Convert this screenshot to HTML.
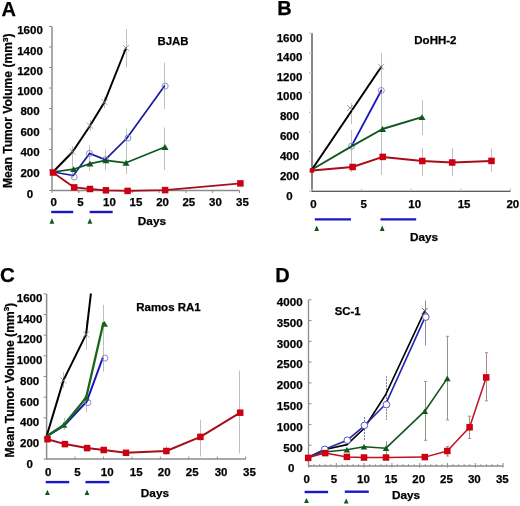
<!DOCTYPE html><html><head><meta charset="utf-8"><style>html,body{margin:0;padding:0;background:#fff;width:520px;height:506px;overflow:hidden}svg{display:block;will-change:transform}</style></head><body>
<svg width="520" height="506" viewBox="0 0 520 506" font-family='"Liberation Sans", sans-serif' font-weight="bold" fill="#000">
<rect width="520" height="506" fill="#fff"/>
<line x1="126.50" y1="28.90" x2="126.50" y2="67.40" stroke="#c0c0c0" stroke-width="1"/>
<line x1="104.50" y1="97.00" x2="104.50" y2="108.00" stroke="#c0c0c0" stroke-width="1"/>
<line x1="90.50" y1="120.00" x2="90.50" y2="131.00" stroke="#c0c0c0" stroke-width="1"/>
<line x1="72.50" y1="146.00" x2="72.50" y2="178.00" stroke="#c0c0c0" stroke-width="1"/>
<line x1="89.50" y1="145.50" x2="89.50" y2="171.00" stroke="#c0c0c0" stroke-width="1"/>
<line x1="105.50" y1="149.40" x2="105.50" y2="170.00" stroke="#c0c0c0" stroke-width="1"/>
<line x1="126.50" y1="128.70" x2="126.50" y2="174.00" stroke="#c0c0c0" stroke-width="1"/>
<line x1="164.50" y1="62.40" x2="164.50" y2="109.00" stroke="#c0c0c0" stroke-width="1"/>
<line x1="164.50" y1="127.50" x2="164.50" y2="170.00" stroke="#c0c0c0" stroke-width="1"/>
<line x1="72.50" y1="146.00" x2="72.50" y2="157.00" stroke="#c0c0c0" stroke-width="1"/>
<line x1="52.00" y1="26.50" x2="52.00" y2="191.00" stroke="#8c8c8c" stroke-width="1.5"/>
<line x1="51.50" y1="190.50" x2="239.50" y2="190.50" stroke="#8c8c8c" stroke-width="1.5"/>
<line x1="49.00" y1="190.50" x2="52.00" y2="190.50" stroke="#8c8c8c" stroke-width="1"/>
<line x1="49.00" y1="170.00" x2="52.00" y2="170.00" stroke="#8c8c8c" stroke-width="1"/>
<line x1="49.00" y1="149.50" x2="52.00" y2="149.50" stroke="#8c8c8c" stroke-width="1"/>
<line x1="49.00" y1="129.00" x2="52.00" y2="129.00" stroke="#8c8c8c" stroke-width="1"/>
<line x1="49.00" y1="108.50" x2="52.00" y2="108.50" stroke="#8c8c8c" stroke-width="1"/>
<line x1="49.00" y1="88.00" x2="52.00" y2="88.00" stroke="#8c8c8c" stroke-width="1"/>
<line x1="49.00" y1="67.50" x2="52.00" y2="67.50" stroke="#8c8c8c" stroke-width="1"/>
<line x1="49.00" y1="47.00" x2="52.00" y2="47.00" stroke="#8c8c8c" stroke-width="1"/>
<line x1="49.00" y1="26.50" x2="52.00" y2="26.50" stroke="#8c8c8c" stroke-width="1"/>
<line x1="52.00" y1="190.50" x2="52.00" y2="193.00" stroke="#8c8c8c" stroke-width="1"/>
<line x1="78.79" y1="190.50" x2="78.79" y2="193.00" stroke="#8c8c8c" stroke-width="1"/>
<line x1="105.57" y1="190.50" x2="105.57" y2="193.00" stroke="#8c8c8c" stroke-width="1"/>
<line x1="132.36" y1="190.50" x2="132.36" y2="193.00" stroke="#8c8c8c" stroke-width="1"/>
<line x1="159.14" y1="190.50" x2="159.14" y2="193.00" stroke="#8c8c8c" stroke-width="1"/>
<line x1="185.93" y1="190.50" x2="185.93" y2="193.00" stroke="#8c8c8c" stroke-width="1"/>
<line x1="212.71" y1="190.50" x2="212.71" y2="193.00" stroke="#8c8c8c" stroke-width="1"/>
<line x1="239.50" y1="190.50" x2="239.50" y2="193.00" stroke="#8c8c8c" stroke-width="1"/>
<text x="30.00" y="198.10" font-size="11.5" text-anchor="middle" stroke="#000" stroke-width="0.25" >0</text>
<text x="30.00" y="177.40" font-size="11.5" text-anchor="middle" stroke="#000" stroke-width="0.25" >200</text>
<text x="30.00" y="156.40" font-size="11.5" text-anchor="middle" stroke="#000" stroke-width="0.25" >400</text>
<text x="30.00" y="136.20" font-size="11.5" text-anchor="middle" stroke="#000" stroke-width="0.25" >600</text>
<text x="30.00" y="115.40" font-size="11.5" text-anchor="middle" stroke="#000" stroke-width="0.25" >800</text>
<text x="30.00" y="95.10" font-size="11.5" text-anchor="middle" stroke="#000" stroke-width="0.25" >1000</text>
<text x="30.00" y="75.00" font-size="11.5" text-anchor="middle" stroke="#000" stroke-width="0.25" >1200</text>
<text x="30.00" y="54.60" font-size="11.5" text-anchor="middle" stroke="#000" stroke-width="0.25" >1400</text>
<text x="30.00" y="33.90" font-size="11.5" text-anchor="middle" stroke="#000" stroke-width="0.25" >1600</text>
<text x="53.60" y="206.20" font-size="11.5" text-anchor="middle" stroke="#000" stroke-width="0.25" >0</text>
<text x="80.40" y="206.20" font-size="11.5" text-anchor="middle" stroke="#000" stroke-width="0.25" >5</text>
<text x="109.50" y="206.20" font-size="11.5" text-anchor="middle" stroke="#000" stroke-width="0.25" >10</text>
<text x="136.00" y="206.20" font-size="11.5" text-anchor="middle" stroke="#000" stroke-width="0.25" >15</text>
<text x="162.60" y="206.20" font-size="11.5" text-anchor="middle" stroke="#000" stroke-width="0.25" >20</text>
<text x="188.80" y="206.20" font-size="11.5" text-anchor="middle" stroke="#000" stroke-width="0.25" >25</text>
<text x="215.50" y="206.20" font-size="11.5" text-anchor="middle" stroke="#000" stroke-width="0.25" >30</text>
<text x="242.40" y="206.20" font-size="11.5" text-anchor="middle" stroke="#000" stroke-width="0.25" >35</text>
<polyline points="53.00,172.00 72.70,151.80 90.00,125.70 104.50,102.00 126.00,48.00" fill="none" stroke="#000000" stroke-width="2" stroke-linejoin="round" stroke-linecap="round"/>
<path d="M69.70,148.80L75.70,154.80M69.70,154.80L75.70,148.80" stroke="#8a8a8a" stroke-width="0.8" fill="none"/>
<path d="M87.00,122.70L93.00,128.70M87.00,128.70L93.00,122.70" stroke="#8a8a8a" stroke-width="0.8" fill="none"/>
<path d="M101.50,99.00L107.50,105.00M101.50,105.00L107.50,99.00" stroke="#8a8a8a" stroke-width="0.8" fill="none"/>
<path d="M123.00,45.00L129.00,51.00M123.00,51.00L129.00,45.00" stroke="#8a8a8a" stroke-width="0.8" fill="none"/>
<polyline points="53.00,172.00 73.30,175.50 89.50,153.40 105.30,159.70 126.60,138.50 164.50,86.10" fill="none" stroke="#1a1aa0" stroke-width="1.7" stroke-linejoin="round" stroke-linecap="round"/>
<circle cx="74.20" cy="177.00" r="3" fill="none" stroke="#8080c8" stroke-width="0.9"/>
<circle cx="89.50" cy="153.40" r="3" fill="none" stroke="#8080c8" stroke-width="0.9"/>
<circle cx="105.30" cy="159.70" r="3" fill="none" stroke="#8080c8" stroke-width="0.9"/>
<circle cx="128.00" cy="138.00" r="3" fill="none" stroke="#8080c8" stroke-width="0.9"/>
<circle cx="165.20" cy="86.10" r="3" fill="none" stroke="#8080c8" stroke-width="0.9"/>
<polyline points="53.00,172.00 73.70,169.20 90.00,163.60 105.90,160.30 126.00,162.80 165.00,147.00" fill="none" stroke="#11561f" stroke-width="1.7" stroke-linejoin="round" stroke-linecap="round"/>
<polygon points="70.20,172.10 77.20,172.10 73.70,166.30" fill="#11561f"/>
<polygon points="86.50,166.50 93.50,166.50 90.00,160.70" fill="#11561f"/>
<polygon points="102.40,163.20 109.40,163.20 105.90,157.40" fill="#11561f"/>
<polygon points="122.50,165.70 129.50,165.70 126.00,159.90" fill="#11561f"/>
<polygon points="161.50,149.90 168.50,149.90 165.00,144.10" fill="#11561f"/>
<polyline points="53.00,172.50 74.20,187.40 90.00,189.00 105.90,190.30 127.60,190.90 165.10,190.10 240.80,183.30" fill="none" stroke="#a60e1a" stroke-width="1.8" stroke-linejoin="round" stroke-linecap="round"/>
<rect x="49.75" y="169.25" width="6.5" height="6.5" fill="#cc0012"/>
<rect x="70.95" y="184.15" width="6.5" height="6.5" fill="#cc0012"/>
<rect x="86.75" y="185.75" width="6.5" height="6.5" fill="#cc0012"/>
<rect x="102.65" y="187.05" width="6.5" height="6.5" fill="#cc0012"/>
<rect x="124.35" y="187.65" width="6.5" height="6.5" fill="#cc0012"/>
<rect x="161.85" y="186.85" width="6.5" height="6.5" fill="#cc0012"/>
<rect x="237.15" y="180.15" width="6.5" height="6.5" fill="#cc0012"/>
<line x1="51.20" y1="212.00" x2="73.20" y2="212.00" stroke="#1818c8" stroke-width="2.4"/>
<line x1="89.60" y1="212.00" x2="112.70" y2="212.00" stroke="#1818c8" stroke-width="2.4"/>
<polygon points="49.50,223.80 54.30,223.80 51.90,218.20" fill="#11561f"/>
<polygon points="87.50,223.80 92.30,223.80 89.90,218.20" fill="#11561f"/>
<text x="1.60" y="15.90" font-size="20" text-anchor="start" stroke="#000" stroke-width="0.25" >A</text>
<text x="157.50" y="45.00" font-size="11.4" text-anchor="start" stroke="#000" stroke-width="0.25" >BJAB</text>
<text x="137.80" y="225.40" font-size="11.8" text-anchor="start" stroke="#000" stroke-width="0.25" >Days</text>
<text transform="translate(12.20,188.10) rotate(-90)" font-size="12.1" text-anchor="start" stroke="#000" stroke-width="0.25">Mean Tumor Volume (mm<tspan font-size="7.99" dy="-4.5">3</tspan><tspan dy="4.5">)</tspan></text>
<line x1="351.50" y1="103.00" x2="351.50" y2="124.00" stroke="#c0c0c0" stroke-width="1"/>
<line x1="351.50" y1="130.00" x2="351.50" y2="172.00" stroke="#c0c0c0" stroke-width="1"/>
<line x1="381.50" y1="53.00" x2="381.50" y2="175.00" stroke="#c0c0c0" stroke-width="1"/>
<line x1="422.50" y1="100.40" x2="422.50" y2="135.00" stroke="#c0c0c0" stroke-width="1"/>
<line x1="422.50" y1="148.00" x2="422.50" y2="176.00" stroke="#c0c0c0" stroke-width="1"/>
<line x1="452.50" y1="147.70" x2="452.50" y2="176.30" stroke="#c0c0c0" stroke-width="1"/>
<line x1="491.50" y1="148.70" x2="491.50" y2="172.40" stroke="#c0c0c0" stroke-width="1"/>
<line x1="312.00" y1="33.30" x2="312.00" y2="191.70" stroke="#262626" stroke-width="1.1"/>
<line x1="311.50" y1="191.20" x2="510.50" y2="191.20" stroke="#262626" stroke-width="1.1"/>
<line x1="309.00" y1="191.20" x2="312.00" y2="191.20" stroke="#bbb" stroke-width="1"/>
<line x1="309.00" y1="171.46" x2="312.00" y2="171.46" stroke="#bbb" stroke-width="1"/>
<line x1="309.00" y1="151.72" x2="312.00" y2="151.72" stroke="#bbb" stroke-width="1"/>
<line x1="309.00" y1="131.99" x2="312.00" y2="131.99" stroke="#bbb" stroke-width="1"/>
<line x1="309.00" y1="112.25" x2="312.00" y2="112.25" stroke="#bbb" stroke-width="1"/>
<line x1="309.00" y1="92.51" x2="312.00" y2="92.51" stroke="#bbb" stroke-width="1"/>
<line x1="309.00" y1="72.78" x2="312.00" y2="72.78" stroke="#bbb" stroke-width="1"/>
<line x1="309.00" y1="53.04" x2="312.00" y2="53.04" stroke="#bbb" stroke-width="1"/>
<line x1="309.00" y1="33.30" x2="312.00" y2="33.30" stroke="#bbb" stroke-width="1"/>
<line x1="312.00" y1="191.20" x2="312.00" y2="188.70" stroke="#bbb" stroke-width="1"/>
<line x1="361.62" y1="191.20" x2="361.62" y2="188.70" stroke="#bbb" stroke-width="1"/>
<line x1="411.25" y1="191.20" x2="411.25" y2="188.70" stroke="#bbb" stroke-width="1"/>
<line x1="460.88" y1="191.20" x2="460.88" y2="188.70" stroke="#bbb" stroke-width="1"/>
<line x1="510.50" y1="191.20" x2="510.50" y2="188.70" stroke="#bbb" stroke-width="1"/>
<text x="289.50" y="199.90" font-size="11.5" text-anchor="middle" stroke="#000" stroke-width="0.25" >0</text>
<text x="289.50" y="180.00" font-size="11.5" text-anchor="middle" stroke="#000" stroke-width="0.25" >200</text>
<text x="289.50" y="159.90" font-size="11.5" text-anchor="middle" stroke="#000" stroke-width="0.25" >400</text>
<text x="289.50" y="140.20" font-size="11.5" text-anchor="middle" stroke="#000" stroke-width="0.25" >600</text>
<text x="289.50" y="120.10" font-size="11.5" text-anchor="middle" stroke="#000" stroke-width="0.25" >800</text>
<text x="289.50" y="100.10" font-size="11.5" text-anchor="middle" stroke="#000" stroke-width="0.25" >1000</text>
<text x="289.50" y="80.80" font-size="11.5" text-anchor="middle" stroke="#000" stroke-width="0.25" >1200</text>
<text x="289.50" y="60.60" font-size="11.5" text-anchor="middle" stroke="#000" stroke-width="0.25" >1400</text>
<text x="289.50" y="41.50" font-size="11.5" text-anchor="middle" stroke="#000" stroke-width="0.25" >1600</text>
<text x="313.50" y="207.80" font-size="11.5" text-anchor="middle" stroke="#000" stroke-width="0.25" >0</text>
<text x="363.70" y="207.80" font-size="11.5" text-anchor="middle" stroke="#000" stroke-width="0.25" >5</text>
<text x="414.70" y="207.80" font-size="11.5" text-anchor="middle" stroke="#000" stroke-width="0.25" >10</text>
<text x="464.10" y="207.80" font-size="11.5" text-anchor="middle" stroke="#000" stroke-width="0.25" >15</text>
<text x="512.80" y="207.80" font-size="11.5" text-anchor="middle" stroke="#000" stroke-width="0.25" >20</text>
<polyline points="312.00,169.50 381.30,66.80" fill="none" stroke="#000000" stroke-width="2" stroke-linejoin="round" stroke-linecap="round"/>
<path d="M347.00,105.00L353.00,111.00M347.00,111.00L353.00,105.00" stroke="#8a8a8a" stroke-width="0.8" fill="none"/>
<path d="M378.10,63.80L384.10,69.80M378.10,69.80L384.10,63.80" stroke="#8a8a8a" stroke-width="0.8" fill="none"/>
<polyline points="351.50,146.20 381.30,90.50" fill="none" stroke="#1a14c0" stroke-width="1.8" stroke-linejoin="round" stroke-linecap="round"/>
<circle cx="351.50" cy="146.20" r="3" fill="none" stroke="#8080c8" stroke-width="0.9"/>
<circle cx="381.30" cy="90.50" r="3" fill="none" stroke="#8080c8" stroke-width="0.9"/>
<polyline points="312.00,169.50 351.50,146.40 382.50,129.00 422.00,117.20" fill="none" stroke="#11561f" stroke-width="1.9" stroke-linejoin="round" stroke-linecap="round"/>
<polygon points="379.00,131.90 386.00,131.90 382.50,126.10" fill="#11561f"/>
<polygon points="418.50,120.10 425.50,120.10 422.00,114.30" fill="#11561f"/>
<polyline points="312.00,170.40 352.60,167.00 382.70,156.90 422.30,161.00 452.20,162.50 491.50,160.90" fill="none" stroke="#a60e1a" stroke-width="2" stroke-linejoin="round" stroke-linecap="round"/>
<rect x="349.35" y="163.75" width="6.5" height="6.5" fill="#cc0012"/>
<rect x="379.45" y="153.65" width="6.5" height="6.5" fill="#cc0012"/>
<rect x="419.05" y="157.75" width="6.5" height="6.5" fill="#cc0012"/>
<rect x="448.95" y="159.25" width="6.5" height="6.5" fill="#cc0012"/>
<rect x="488.25" y="157.65" width="6.5" height="6.5" fill="#cc0012"/>
<rect x="309.75" y="168.15" width="4.5" height="4.5" fill="#cc0012"/>
<line x1="314.80" y1="219.40" x2="351.00" y2="219.40" stroke="#1818c8" stroke-width="2.4"/>
<line x1="380.50" y1="219.40" x2="416.20" y2="219.40" stroke="#1818c8" stroke-width="2.4"/>
<polygon points="314.30,231.00 319.10,231.00 316.70,225.40" fill="#11561f"/>
<polygon points="379.80,231.00 384.60,231.00 382.20,225.40" fill="#11561f"/>
<text x="277.20" y="14.60" font-size="20" text-anchor="start" stroke="#000" stroke-width="0.25" >B</text>
<text x="414.30" y="44.20" font-size="11.5" text-anchor="start" stroke="#000" stroke-width="0.25" >DoHH-2</text>
<text x="409.90" y="241.00" font-size="11.8" text-anchor="start" stroke="#000" stroke-width="0.25" >Days</text>
<defs><clipPath id="cc"><rect x="40" y="293.5" width="220" height="170"/></clipPath></defs>
<line x1="63.50" y1="372.00" x2="63.50" y2="388.00" stroke="#c0c0c0" stroke-width="1"/>
<line x1="86.50" y1="320.60" x2="86.50" y2="349.20" stroke="#c0c0c0" stroke-width="1"/>
<line x1="86.50" y1="392.00" x2="86.50" y2="412.00" stroke="#c0c0c0" stroke-width="1"/>
<line x1="103.50" y1="304.80" x2="103.50" y2="372.00" stroke="#c0c0c0" stroke-width="1"/>
<line x1="166.50" y1="446.00" x2="166.50" y2="455.00" stroke="#c0c0c0" stroke-width="1"/>
<line x1="200.50" y1="419.60" x2="200.50" y2="456.50" stroke="#c0c0c0" stroke-width="1"/>
<line x1="239.50" y1="370.50" x2="239.50" y2="453.60" stroke="#c0c0c0" stroke-width="1"/>
<line x1="64.50" y1="418.00" x2="64.50" y2="430.00" stroke="#c0c0c0" stroke-width="1"/>
<line x1="46.60" y1="293.90" x2="46.60" y2="459.60" stroke="#8c8c8c" stroke-width="1.5"/>
<line x1="46.10" y1="459.10" x2="245.70" y2="459.10" stroke="#8c8c8c" stroke-width="1.5"/>
<line x1="43.60" y1="459.10" x2="46.60" y2="459.10" stroke="#8c8c8c" stroke-width="1"/>
<line x1="43.60" y1="438.45" x2="46.60" y2="438.45" stroke="#8c8c8c" stroke-width="1"/>
<line x1="43.60" y1="417.80" x2="46.60" y2="417.80" stroke="#8c8c8c" stroke-width="1"/>
<line x1="43.60" y1="397.15" x2="46.60" y2="397.15" stroke="#8c8c8c" stroke-width="1"/>
<line x1="43.60" y1="376.50" x2="46.60" y2="376.50" stroke="#8c8c8c" stroke-width="1"/>
<line x1="43.60" y1="355.85" x2="46.60" y2="355.85" stroke="#8c8c8c" stroke-width="1"/>
<line x1="43.60" y1="335.20" x2="46.60" y2="335.20" stroke="#8c8c8c" stroke-width="1"/>
<line x1="43.60" y1="314.55" x2="46.60" y2="314.55" stroke="#8c8c8c" stroke-width="1"/>
<line x1="43.60" y1="293.90" x2="46.60" y2="293.90" stroke="#8c8c8c" stroke-width="1"/>
<line x1="46.60" y1="459.10" x2="46.60" y2="456.60" stroke="#8c8c8c" stroke-width="1"/>
<line x1="75.04" y1="459.10" x2="75.04" y2="456.60" stroke="#8c8c8c" stroke-width="1"/>
<line x1="103.49" y1="459.10" x2="103.49" y2="456.60" stroke="#8c8c8c" stroke-width="1"/>
<line x1="131.93" y1="459.10" x2="131.93" y2="456.60" stroke="#8c8c8c" stroke-width="1"/>
<line x1="160.37" y1="459.10" x2="160.37" y2="456.60" stroke="#8c8c8c" stroke-width="1"/>
<line x1="188.81" y1="459.10" x2="188.81" y2="456.60" stroke="#8c8c8c" stroke-width="1"/>
<line x1="217.26" y1="459.10" x2="217.26" y2="456.60" stroke="#8c8c8c" stroke-width="1"/>
<line x1="245.70" y1="459.10" x2="245.70" y2="456.60" stroke="#8c8c8c" stroke-width="1"/>
<text x="29.60" y="467.90" font-size="11.5" text-anchor="middle" stroke="#000" stroke-width="0.25" >0</text>
<text x="29.60" y="447.10" font-size="11.5" text-anchor="middle" stroke="#000" stroke-width="0.25" >200</text>
<text x="29.60" y="426.40" font-size="11.5" text-anchor="middle" stroke="#000" stroke-width="0.25" >400</text>
<text x="29.60" y="405.60" font-size="11.5" text-anchor="middle" stroke="#000" stroke-width="0.25" >600</text>
<text x="29.60" y="384.80" font-size="11.5" text-anchor="middle" stroke="#000" stroke-width="0.25" >800</text>
<text x="29.60" y="363.70" font-size="11.5" text-anchor="middle" stroke="#000" stroke-width="0.25" >1000</text>
<text x="29.60" y="342.80" font-size="11.5" text-anchor="middle" stroke="#000" stroke-width="0.25" >1200</text>
<text x="29.60" y="323.00" font-size="11.5" text-anchor="middle" stroke="#000" stroke-width="0.25" >1400</text>
<text x="29.60" y="301.80" font-size="11.5" text-anchor="middle" stroke="#000" stroke-width="0.25" >1600</text>
<text x="48.10" y="476.00" font-size="11.5" text-anchor="middle" stroke="#000" stroke-width="0.25" >0</text>
<text x="77.50" y="476.00" font-size="11.5" text-anchor="middle" stroke="#000" stroke-width="0.25" >5</text>
<text x="107.20" y="476.00" font-size="11.5" text-anchor="middle" stroke="#000" stroke-width="0.25" >10</text>
<text x="136.20" y="476.00" font-size="11.5" text-anchor="middle" stroke="#000" stroke-width="0.25" >15</text>
<text x="164.20" y="476.00" font-size="11.5" text-anchor="middle" stroke="#000" stroke-width="0.25" >20</text>
<text x="192.20" y="476.00" font-size="11.5" text-anchor="middle" stroke="#000" stroke-width="0.25" >25</text>
<text x="221.10" y="476.00" font-size="11.5" text-anchor="middle" stroke="#000" stroke-width="0.25" >30</text>
<text x="249.40" y="476.00" font-size="11.5" text-anchor="middle" stroke="#000" stroke-width="0.25" >35</text>
<g clip-path="url(#cc)">
<polyline points="46.60,436.20 63.40,380.40 86.10,334.40 92.50,280.00" fill="none" stroke="#000000" stroke-width="2" stroke-linejoin="round" stroke-linecap="round"/>
</g>
<path d="M60.40,377.40L66.40,383.40M60.40,383.40L66.40,377.40" stroke="#8a8a8a" stroke-width="0.8" fill="none"/>
<path d="M83.10,331.40L89.10,337.40M83.10,337.40L89.10,331.40" stroke="#8a8a8a" stroke-width="0.8" fill="none"/>
<polyline points="46.60,436.50 63.80,426.00 86.70,401.60 102.50,358.50" fill="none" stroke="#1a14c0" stroke-width="2" stroke-linejoin="round" stroke-linecap="round"/>
<circle cx="88.00" cy="402.60" r="3" fill="none" stroke="#8080c8" stroke-width="0.9"/>
<circle cx="104.90" cy="358.10" r="3" fill="none" stroke="#8080c8" stroke-width="0.9"/>
<polyline points="46.60,436.20 63.80,424.90 86.10,397.70 103.30,323.20" fill="none" stroke="#186618" stroke-width="2.3" stroke-linejoin="round" stroke-linecap="round"/>
<polygon points="60.30,427.80 67.30,427.80 63.80,422.00" fill="#186618"/>
<polygon points="82.60,400.60 89.60,400.60 86.10,394.80" fill="#186618"/>
<polygon points="101.00,326.70 108.00,326.70 104.50,320.90" fill="#186618"/>
<polyline points="47.50,439.20 64.90,444.10 87.10,448.10 103.70,450.00 126.00,452.80 166.40,451.00 200.40,436.90 240.20,412.70" fill="none" stroke="#a60e1a" stroke-width="2" stroke-linejoin="round" stroke-linecap="round"/>
<rect x="44.25" y="435.95" width="6.5" height="6.5" fill="#cc0012"/>
<rect x="61.65" y="440.85" width="6.5" height="6.5" fill="#cc0012"/>
<rect x="83.85" y="444.85" width="6.5" height="6.5" fill="#cc0012"/>
<rect x="100.45" y="446.75" width="6.5" height="6.5" fill="#cc0012"/>
<rect x="122.75" y="449.55" width="6.5" height="6.5" fill="#cc0012"/>
<rect x="163.15" y="447.75" width="6.5" height="6.5" fill="#cc0012"/>
<rect x="197.15" y="433.65" width="6.5" height="6.5" fill="#cc0012"/>
<rect x="236.95" y="409.45" width="6.5" height="6.5" fill="#cc0012"/>
<line x1="45.70" y1="482.10" x2="69.20" y2="482.10" stroke="#1818c8" stroke-width="2.4"/>
<line x1="85.50" y1="482.10" x2="109.40" y2="482.10" stroke="#1818c8" stroke-width="2.4"/>
<polygon points="45.00,495.00 49.80,495.00 47.40,489.80" fill="#11561f"/>
<polygon points="84.60,495.00 89.40,495.00 87.00,489.80" fill="#11561f"/>
<text x="0.00" y="282.00" font-size="20.5" text-anchor="start" stroke="#000" stroke-width="0.25" >C</text>
<text x="136.20" y="311.10" font-size="11.5" text-anchor="start" stroke="#000" stroke-width="0.25" >Ramos RA1</text>
<text x="140.80" y="496.50" font-size="11.8" text-anchor="start" stroke="#000" stroke-width="0.25" >Days</text>
<text transform="translate(13.80,457.40) rotate(-90)" font-size="12.1" text-anchor="start" stroke="#000" stroke-width="0.25">Mean Tumor Volume (mm<tspan font-size="7.99" dy="-4.5">3</tspan><tspan dy="4.5">)</tspan></text>
<line x1="425.50" y1="300.50" x2="425.50" y2="345.50" stroke="#8c8ca4" stroke-width="1"/>
<line x1="386.50" y1="376.20" x2="386.50" y2="419.80" stroke="#7c7c98" stroke-width="1" stroke-dasharray="2,1"/>
<line x1="364.50" y1="417.00" x2="364.50" y2="440.00" stroke="#7c7c98" stroke-width="1" stroke-dasharray="2,1"/>
<line x1="425.50" y1="381.40" x2="425.50" y2="440.30" stroke="#8a9a8a" stroke-width="1"/>
<line x1="423.90" y1="381.40" x2="427.10" y2="381.40" stroke="#8a9a8a" stroke-width="1"/>
<line x1="423.90" y1="440.30" x2="427.10" y2="440.30" stroke="#8a9a8a" stroke-width="1"/>
<line x1="447.50" y1="336.30" x2="447.50" y2="419.90" stroke="#8a9a8a" stroke-width="1"/>
<line x1="445.90" y1="336.30" x2="449.10" y2="336.30" stroke="#8a9a8a" stroke-width="1"/>
<line x1="445.90" y1="419.90" x2="449.10" y2="419.90" stroke="#8a9a8a" stroke-width="1"/>
<line x1="486.50" y1="352.70" x2="486.50" y2="400.80" stroke="#b08a8a" stroke-width="1"/>
<line x1="484.90" y1="352.70" x2="488.10" y2="352.70" stroke="#b08a8a" stroke-width="1"/>
<line x1="484.90" y1="400.80" x2="488.10" y2="400.80" stroke="#b08a8a" stroke-width="1"/>
<line x1="469.50" y1="416.20" x2="469.50" y2="438.50" stroke="#b08a8a" stroke-width="1"/>
<line x1="467.90" y1="416.20" x2="471.10" y2="416.20" stroke="#b08a8a" stroke-width="1"/>
<line x1="467.90" y1="438.50" x2="471.10" y2="438.50" stroke="#b08a8a" stroke-width="1"/>
<line x1="447.50" y1="446.50" x2="447.50" y2="456.00" stroke="#b08a8a" stroke-width="1"/>
<line x1="446.00" y1="446.50" x2="449.00" y2="446.50" stroke="#b08a8a" stroke-width="1"/>
<line x1="446.00" y1="456.00" x2="449.00" y2="456.00" stroke="#b08a8a" stroke-width="1"/>
<line x1="386.50" y1="441.00" x2="386.50" y2="455.00" stroke="#999" stroke-width="1"/>
<line x1="308.50" y1="299.80" x2="308.50" y2="466.50" stroke="#8c8c8c" stroke-width="1.3"/>
<line x1="308.00" y1="466.00" x2="503.10" y2="466.00" stroke="#8c8c8c" stroke-width="1.3"/>
<line x1="308.50" y1="466.00" x2="311.50" y2="466.00" stroke="#8c8c8c" stroke-width="1"/>
<line x1="308.50" y1="445.23" x2="311.50" y2="445.23" stroke="#8c8c8c" stroke-width="1"/>
<line x1="308.50" y1="424.45" x2="311.50" y2="424.45" stroke="#8c8c8c" stroke-width="1"/>
<line x1="308.50" y1="403.68" x2="311.50" y2="403.68" stroke="#8c8c8c" stroke-width="1"/>
<line x1="308.50" y1="382.90" x2="311.50" y2="382.90" stroke="#8c8c8c" stroke-width="1"/>
<line x1="308.50" y1="362.12" x2="311.50" y2="362.12" stroke="#8c8c8c" stroke-width="1"/>
<line x1="308.50" y1="341.35" x2="311.50" y2="341.35" stroke="#8c8c8c" stroke-width="1"/>
<line x1="308.50" y1="320.58" x2="311.50" y2="320.58" stroke="#8c8c8c" stroke-width="1"/>
<line x1="308.50" y1="299.80" x2="311.50" y2="299.80" stroke="#8c8c8c" stroke-width="1"/>
<line x1="308.50" y1="467.50" x2="308.50" y2="463.00" stroke="#8c8c8c" stroke-width="1"/>
<line x1="314.06" y1="466.00" x2="314.06" y2="464.00" stroke="#8c8c8c" stroke-width="0.8"/>
<line x1="319.62" y1="466.00" x2="319.62" y2="464.00" stroke="#8c8c8c" stroke-width="0.8"/>
<line x1="325.18" y1="466.00" x2="325.18" y2="464.00" stroke="#8c8c8c" stroke-width="0.8"/>
<line x1="330.74" y1="466.00" x2="330.74" y2="464.00" stroke="#8c8c8c" stroke-width="0.8"/>
<line x1="336.30" y1="467.50" x2="336.30" y2="463.00" stroke="#8c8c8c" stroke-width="1"/>
<line x1="341.86" y1="466.00" x2="341.86" y2="464.00" stroke="#8c8c8c" stroke-width="0.8"/>
<line x1="347.42" y1="466.00" x2="347.42" y2="464.00" stroke="#8c8c8c" stroke-width="0.8"/>
<line x1="352.98" y1="466.00" x2="352.98" y2="464.00" stroke="#8c8c8c" stroke-width="0.8"/>
<line x1="358.54" y1="466.00" x2="358.54" y2="464.00" stroke="#8c8c8c" stroke-width="0.8"/>
<line x1="364.10" y1="467.50" x2="364.10" y2="463.00" stroke="#8c8c8c" stroke-width="1"/>
<line x1="369.66" y1="466.00" x2="369.66" y2="464.00" stroke="#8c8c8c" stroke-width="0.8"/>
<line x1="375.22" y1="466.00" x2="375.22" y2="464.00" stroke="#8c8c8c" stroke-width="0.8"/>
<line x1="380.78" y1="466.00" x2="380.78" y2="464.00" stroke="#8c8c8c" stroke-width="0.8"/>
<line x1="386.34" y1="466.00" x2="386.34" y2="464.00" stroke="#8c8c8c" stroke-width="0.8"/>
<line x1="391.90" y1="467.50" x2="391.90" y2="463.00" stroke="#8c8c8c" stroke-width="1"/>
<line x1="397.46" y1="466.00" x2="397.46" y2="464.00" stroke="#8c8c8c" stroke-width="0.8"/>
<line x1="403.02" y1="466.00" x2="403.02" y2="464.00" stroke="#8c8c8c" stroke-width="0.8"/>
<line x1="408.58" y1="466.00" x2="408.58" y2="464.00" stroke="#8c8c8c" stroke-width="0.8"/>
<line x1="414.14" y1="466.00" x2="414.14" y2="464.00" stroke="#8c8c8c" stroke-width="0.8"/>
<line x1="419.70" y1="467.50" x2="419.70" y2="463.00" stroke="#8c8c8c" stroke-width="1"/>
<line x1="425.26" y1="466.00" x2="425.26" y2="464.00" stroke="#8c8c8c" stroke-width="0.8"/>
<line x1="430.82" y1="466.00" x2="430.82" y2="464.00" stroke="#8c8c8c" stroke-width="0.8"/>
<line x1="436.38" y1="466.00" x2="436.38" y2="464.00" stroke="#8c8c8c" stroke-width="0.8"/>
<line x1="441.94" y1="466.00" x2="441.94" y2="464.00" stroke="#8c8c8c" stroke-width="0.8"/>
<line x1="447.50" y1="467.50" x2="447.50" y2="463.00" stroke="#8c8c8c" stroke-width="1"/>
<line x1="453.06" y1="466.00" x2="453.06" y2="464.00" stroke="#8c8c8c" stroke-width="0.8"/>
<line x1="458.62" y1="466.00" x2="458.62" y2="464.00" stroke="#8c8c8c" stroke-width="0.8"/>
<line x1="464.18" y1="466.00" x2="464.18" y2="464.00" stroke="#8c8c8c" stroke-width="0.8"/>
<line x1="469.74" y1="466.00" x2="469.74" y2="464.00" stroke="#8c8c8c" stroke-width="0.8"/>
<line x1="475.30" y1="467.50" x2="475.30" y2="463.00" stroke="#8c8c8c" stroke-width="1"/>
<line x1="480.86" y1="466.00" x2="480.86" y2="464.00" stroke="#8c8c8c" stroke-width="0.8"/>
<line x1="486.42" y1="466.00" x2="486.42" y2="464.00" stroke="#8c8c8c" stroke-width="0.8"/>
<line x1="491.98" y1="466.00" x2="491.98" y2="464.00" stroke="#8c8c8c" stroke-width="0.8"/>
<line x1="497.54" y1="466.00" x2="497.54" y2="464.00" stroke="#8c8c8c" stroke-width="0.8"/>
<line x1="503.10" y1="467.50" x2="503.10" y2="463.00" stroke="#8c8c8c" stroke-width="1"/>
<text x="291.30" y="472.20" font-size="11.6" text-anchor="middle" stroke="#000" stroke-width="0.25" >0</text>
<text x="302.60" y="452.10" font-size="11.6" text-anchor="end" stroke="#000" stroke-width="0.25" >500</text>
<text x="302.60" y="431.30" font-size="11.6" text-anchor="end" stroke="#000" stroke-width="0.25" >1000</text>
<text x="302.60" y="409.90" font-size="11.6" text-anchor="end" stroke="#000" stroke-width="0.25" >1500</text>
<text x="302.60" y="389.40" font-size="11.6" text-anchor="end" stroke="#000" stroke-width="0.25" >2000</text>
<text x="302.60" y="368.40" font-size="11.6" text-anchor="end" stroke="#000" stroke-width="0.25" >2500</text>
<text x="302.60" y="347.80" font-size="11.6" text-anchor="end" stroke="#000" stroke-width="0.25" >3000</text>
<text x="302.60" y="326.80" font-size="11.6" text-anchor="end" stroke="#000" stroke-width="0.25" >3500</text>
<text x="302.60" y="306.30" font-size="11.6" text-anchor="end" stroke="#000" stroke-width="0.25" >4000</text>
<text x="306.80" y="483.00" font-size="11.5" text-anchor="middle" stroke="#000" stroke-width="0.25" >0</text>
<text x="334.00" y="483.00" font-size="11.5" text-anchor="middle" stroke="#000" stroke-width="0.25" >5</text>
<text x="363.50" y="483.00" font-size="11.5" text-anchor="middle" stroke="#000" stroke-width="0.25" >10</text>
<text x="391.00" y="483.00" font-size="11.5" text-anchor="middle" stroke="#000" stroke-width="0.25" >15</text>
<text x="418.70" y="483.00" font-size="11.5" text-anchor="middle" stroke="#000" stroke-width="0.25" >20</text>
<text x="446.50" y="483.00" font-size="11.5" text-anchor="middle" stroke="#000" stroke-width="0.25" >25</text>
<text x="474.30" y="483.00" font-size="11.5" text-anchor="middle" stroke="#000" stroke-width="0.25" >30</text>
<text x="502.30" y="483.00" font-size="11.5" text-anchor="middle" stroke="#000" stroke-width="0.25" >35</text>
<polyline points="308.20,457.50 325.00,449.50 347.00,444.60 364.00,428.50 385.30,395.30 424.70,311.20" fill="none" stroke="#000000" stroke-width="1.6" stroke-linejoin="round" stroke-linecap="round"/>
<polyline points="308.20,457.50 324.80,449.30 347.30,440.20 364.30,425.80 385.60,404.30 424.20,319.20" fill="none" stroke="#2424b4" stroke-width="1.6" stroke-linejoin="round" stroke-linecap="round"/>
<circle cx="324.80" cy="449.30" r="3.3" fill="#fff" stroke="#5454c0" stroke-width="1.0"/>
<circle cx="347.30" cy="440.20" r="3.3" fill="#fff" stroke="#5454c0" stroke-width="1.0"/>
<circle cx="364.40" cy="425.40" r="3.3" fill="#fff" stroke="#5454c0" stroke-width="1.0"/>
<circle cx="386.40" cy="404.60" r="3.3" fill="#fff" stroke="#5454c0" stroke-width="1.0"/>
<circle cx="425.80" cy="317.10" r="3.3" fill="#fff" stroke="#5454c0" stroke-width="1.0"/>
<path d="M421.80,307.80L427.80,313.80M421.80,313.80L427.80,307.80" stroke="#555" stroke-width="0.9" fill="none"/>
<polyline points="308.20,457.50 325.00,452.00 346.90,449.80 364.00,446.80 386.00,448.20 424.80,411.20 447.30,378.40" fill="none" stroke="#11561f" stroke-width="1.6" stroke-linejoin="round" stroke-linecap="round"/>
<polygon points="343.60,452.60 350.20,452.60 346.90,447.00" fill="#11561f"/>
<polygon points="360.70,449.60 367.30,449.60 364.00,444.00" fill="#11561f"/>
<polygon points="382.70,451.00 389.30,451.00 386.00,445.40" fill="#11561f"/>
<polygon points="421.50,414.00 428.10,414.00 424.80,408.40" fill="#11561f"/>
<polygon points="444.00,381.20 450.60,381.20 447.30,375.60" fill="#11561f"/>
<polyline points="308.20,457.50 325.20,453.10 346.90,456.90 364.00,457.50 386.00,457.50 424.80,457.10 447.30,451.00 469.60,427.30 486.20,377.40" fill="none" stroke="#c4101c" stroke-width="1.5" stroke-linejoin="round" stroke-linecap="round"/>
<rect x="304.95" y="454.65" width="6.5" height="6.5" fill="#cc0012"/>
<rect x="321.95" y="449.85" width="6.5" height="6.5" fill="#cc0012"/>
<rect x="343.65" y="453.65" width="6.5" height="6.5" fill="#cc0012"/>
<rect x="360.75" y="454.25" width="6.5" height="6.5" fill="#cc0012"/>
<rect x="382.75" y="454.25" width="6.5" height="6.5" fill="#cc0012"/>
<rect x="421.55" y="453.85" width="6.5" height="6.5" fill="#cc0012"/>
<rect x="444.05" y="447.75" width="6.5" height="6.5" fill="#cc0012"/>
<rect x="466.35" y="424.05" width="6.5" height="6.5" fill="#cc0012"/>
<rect x="482.95" y="374.15" width="6.5" height="6.5" fill="#cc0012"/>
<line x1="304.60" y1="492.00" x2="328.10" y2="492.00" stroke="#1818c8" stroke-width="2.4"/>
<line x1="344.80" y1="491.70" x2="368.80" y2="491.70" stroke="#1818c8" stroke-width="2.4"/>
<polygon points="304.10,503.10 308.90,503.10 306.50,497.90" fill="#11561f"/>
<polygon points="343.80,503.60 348.60,503.60 346.20,498.40" fill="#11561f"/>
<text x="275.30" y="282.40" font-size="20" text-anchor="start" stroke="#000" stroke-width="0.25" >D</text>
<text x="334.80" y="315.30" font-size="11.3" text-anchor="start" stroke="#000" stroke-width="0.25" >SC-1</text>
<text x="391.90" y="498.80" font-size="11.8" text-anchor="start" stroke="#000" stroke-width="0.25" >Days</text>
</svg></body></html>
